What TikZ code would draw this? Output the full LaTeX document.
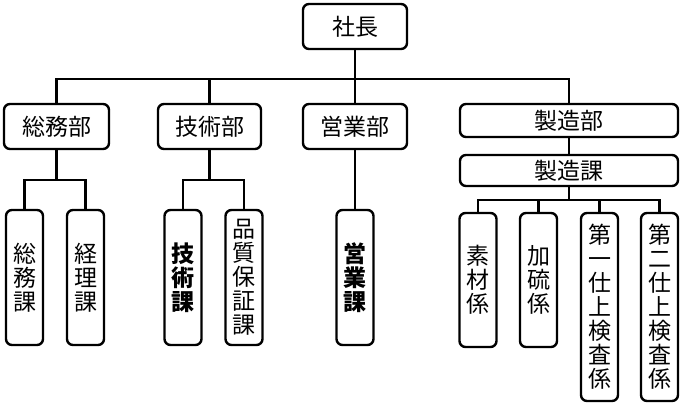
\documentclass[tikz,border=0pt]{standalone}
\usepackage{fontspec}
\setmainfont{Noto Sans CJK JP}

\begin{document}
\begin{tikzpicture}[x=1pt, y=-1pt, line width=2.4pt,
    box/.style = {draw, rounded corners=6pt, inner sep=0pt,
        font=\fontsize{23}{24}\selectfont},
    yoko/.style = {box, minimum width=#1, minimum height=45pt},
    tate/.style = {box, align=center, minimum width=37pt, minimum height=#1}]
\useasboundingbox (0,0) rectangle (684,406);
\node[yoko=104] (shacho) at (355,26.5) {社長};
\node[yoko=105] (soumu) at (56.5,126.5) {総務部};
\node[yoko=103] (gijutsu) at (209.5,126.5) {技術部};
\node[yoko=104] (eigyo) at (355,126.5) {営業部};
\node[yoko=218, minimum height=33pt] (seizou) at (569,120.5) {製造部};
\node[yoko=218, minimum height=31pt] (seizouka) at (569,170.5) {製造課};
\node[tate=135] (soumuka) at (24.5,277.5) {総\\務\\課};
\node[tate=135] (keiri) at (85.5,277.5) {経\\理\\課};
\node[tate=135, font=\fontsize{23}{24}\selectfont\bfseries] (gijutsuka) at (183,277.5) {技\\術\\課};
\node[tate=135] (hinshitsu) at (244,277.5) {品\\質\\保\\証\\課};
\node[tate=135, font=\fontsize{23}{24}\selectfont\bfseries] (eigyoka) at (355,277.5) {営\\業\\課};
\node[tate=134] (sozai) at (478,280) {素\\材\\係};
\node[tate=134] (karyu) at (538.5,280) {加\\硫\\係};
\node[tate=188] (shiage1) at (599.5,307) {第\\一\\仕\\上\\検\\査\\係};
\node[tate=188] (shiage2) at (659.5,307) {第\\二\\仕\\上\\検\\査\\係};
\foreach \d in {soumu,gijutsu,eigyo,seizou}
    \draw (shacho.south) -- ++(0,29) -| (\d.north);
\foreach \k in {soumuka,keiri}
    \draw (soumu.south) -- ++(0,30) -| (\k.north);
\foreach \k in {gijutsuka,hinshitsu}
    \draw (gijutsu.south) -- ++(0,30) -| (\k.north);
\draw (eigyo.south) -- (eigyoka.north);
\draw (seizou.south) -- (seizouka.north);
\foreach \k in {sozai,karyu,shiage1,shiage2}
    \draw (seizouka.south) -- ++(0,13) -| (\k.north);
\end{tikzpicture}
\end{document}
